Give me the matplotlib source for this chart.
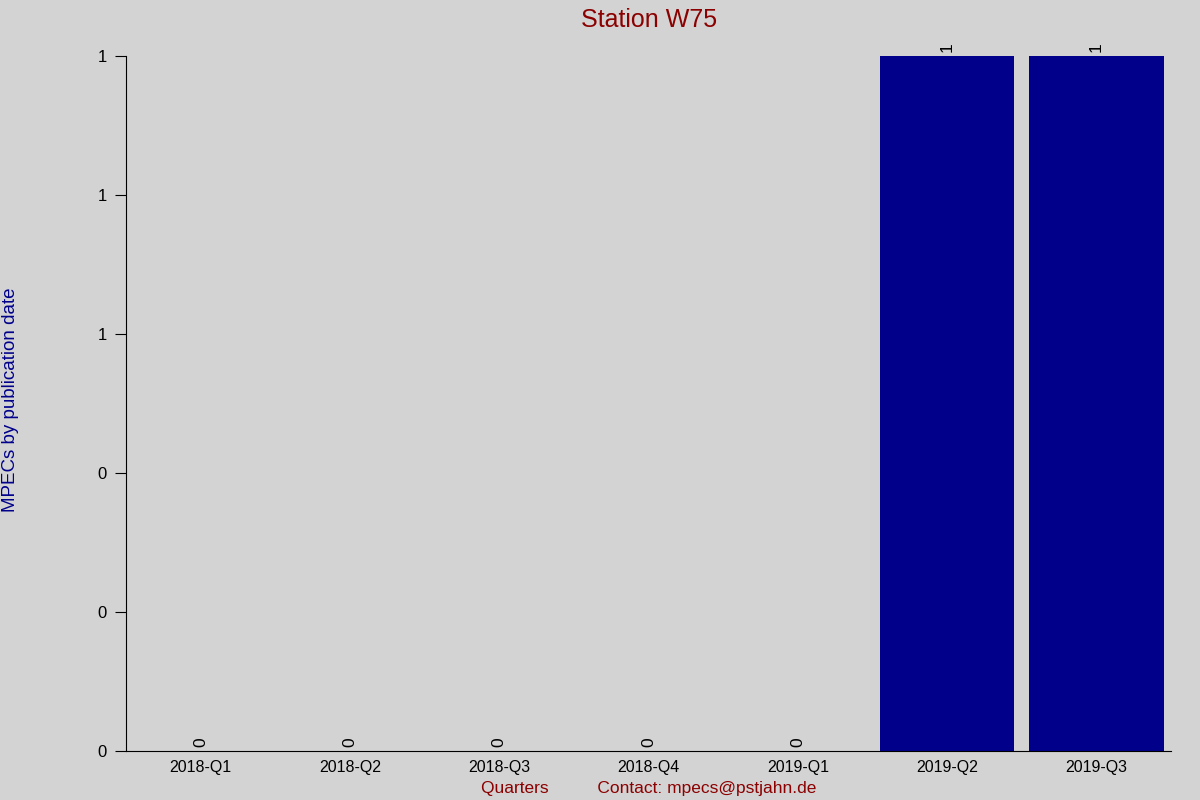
import matplotlib
matplotlib.use('Agg')
import matplotlib.pyplot as plt
from matplotlib.ticker import FormatStrFormatter

plt.rcParams['font.family'] = ['Liberation Sans', 'DejaVu Sans']

quarters = ['2018-Q1', '2018-Q2', '2018-Q3', '2018-Q4', '2019-Q1', '2019-Q2', '2019-Q3']
mpecs    = [0, 0, 0, 0, 0, 1, 1]

bg = '#d3d3d3'
fig = plt.figure(figsize=(12, 8), dpi=100, facecolor=bg)
ax = fig.add_axes([0.105, 0.061, 0.871, 0.869], facecolor=bg)

x = list(range(len(quarters)))
ax.bar(x, mpecs, width=0.9, color='#00008b')
for xi, v in zip(x, mpecs):
    ax.annotate(str(v), (xi, v), xytext=(0, 3), textcoords='offset points',
                rotation=90, ha='center', va='bottom', fontsize=12.5)

ax.set_xlim(-0.5, len(quarters) - 0.5)
ax.set_ylim(0, 1)
ax.set_xticks(x)
ax.set_xticklabels(quarters, fontsize=11.5)
ax.set_yticks([0, 0.2, 0.4, 0.6, 0.8, 1.0])
ax.yaxis.set_major_formatter(FormatStrFormatter('%.0f'))
ax.tick_params(axis='y', length=8, labelsize=12, pad=6)
ax.tick_params(axis='x', length=0, labelsize=11.5, pad=6)

for s in ['top', 'right']:
    ax.spines[s].set_visible(False)

ax.set_title('Station W75', color='#8b0000', fontsize=18, pad=21)
fig.text(0.002, 0.5, 'MPECs by publication date', color='#00008b', fontsize=13.5,
         rotation=90, ha='left', va='center')
ax.set_xlabel('Quarters          Contact: mpecs@pstjahn.de', color='#8b0000',
              fontsize=12.5, labelpad=5)

fig.savefig('out.png', dpi=100, facecolor=bg)
